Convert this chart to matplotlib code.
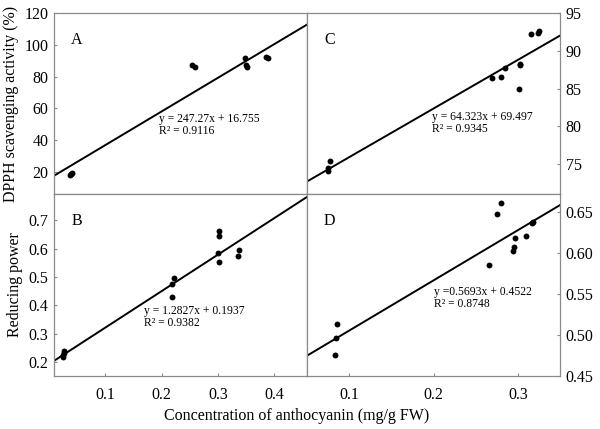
import matplotlib
matplotlib.use("Agg")
import matplotlib.pyplot as plt
import numpy as np

plt.rcParams['font.family'] = ['Liberation Serif', 'DejaVu Serif']

# ---- data ----
# A: DPPH vs anthocyanin (stress series 1)
a_x = [0.027, 0.029, 0.030, 0.213, 0.218, 0.294, 0.295, 0.296, 0.326, 0.328]
a_y = [18.2, 18.8, 19.3, 87.4, 86.3, 91.8, 87.1, 86.0, 92.0, 91.8]
a_fit = (247.27, 16.755)
a_eq = "y = 247.27x + 16.755\nR² = 0.9116"

# B: reducing power
b_x = [0.025, 0.025, 0.026, 0.026, 0.219, 0.219, 0.222, 0.300, 0.302, 0.302, 0.302, 0.3356, 0.337]
b_y = [0.218, 0.225, 0.233, 0.240, 0.430, 0.475, 0.497, 0.585, 0.645, 0.660, 0.554, 0.5735, 0.5946]
b_fit = (1.2827, 0.1937)
b_eq = "y = 1.2827x + 0.1937\nR² = 0.9382"

# C: DPPH (series 2)
c_x = [0.0746, 0.0752, 0.0778, 0.2698, 0.2798, 0.285, 0.301, 0.302, 0.3024, 0.316, 0.324, 0.3248]
c_y = [74.16, 74.5, 75.44, 86.35, 86.52, 87.76, 84.9, 88.1, 88.3, 92.17, 92.35, 92.66]
c_fit = (64.323, 69.497)
c_eq = "y = 64.323x + 69.497\nR² = 0.9345"

# D: reducing power (series 2)
d_x = [0.0829, 0.0849, 0.0857, 0.2659, 0.275, 0.2798, 0.2948, 0.2956, 0.2964, 0.3091, 0.3167, 0.318]
d_y = [0.4752, 0.4958, 0.5133, 0.5855, 0.6472, 0.661, 0.6025, 0.6074, 0.6176, 0.620, 0.6358, 0.6372]
d_line_x = [0.05, 0.35]
d_line_y = [0.4747, 0.658]
d_eq = "y =0.5693x + 0.4522\nR² = 0.8748"

left_xticks = [0.1, 0.2, 0.3, 0.4]
right_xticks = [0.1, 0.2, 0.3]
a_yticks = [20, 40, 60, 80, 100, 120]
b_yticks = [0.2, 0.3, 0.4, 0.5, 0.6, 0.7]
c_yticks = [75, 80, 85, 90, 95]
d_yticks = [0.45, 0.50, 0.55, 0.60, 0.65]

fig = plt.figure(figsize=(6, 4.29), dpi=100)
W, H = 600, 429
def box(x0, y0, x1, y1):
    return [x0 / W, 1 - y1 / H, (x1 - x0) / W, (y1 - y0) / H]

axA = fig.add_axes(box(54, 13, 307, 194))
axB = fig.add_axes(box(54, 194, 307, 376))
axC = fig.add_axes(box(307, 13, 560, 194))
axD = fig.add_axes(box(307, 194, 560, 376))

gray = '#8a8a8a'
tick_fs = 11.5
for ax in (axA, axB, axC, axD):
    for s in ax.spines.values():
        s.set_color(gray)
        s.set_linewidth(0.9)
    ax.tick_params(direction='in', length=2, color=gray, width=0.8,
                   labelsize=tick_fs, pad=4)

def draw(ax, x, y, lx, ly):
    ax.plot(lx, ly, color='black', lw=1.4, zorder=2, clip_on=True)
    ax.scatter(x, y, s=18, color='black', zorder=3, linewidths=0)

# A
axA.set_xlim(0.003, 0.388)
axA.set_ylim(6, 120)
lx = np.array(axA.get_xlim())
draw(axA, a_x, a_y, lx, a_fit[0] * lx + a_fit[1])
axA.set_xticks([])
axA.set_yticks(a_yticks)
axA.set_ylabel("DPPH scavenging activity (%)", fontsize=11.5, labelpad=4)

# B
axB.set_xlim(0.009, 0.458)
axB.set_ylim(0.152, 0.7915)
lx = np.array(axB.get_xlim())
draw(axB, b_x, b_y, lx, b_fit[0] * lx + b_fit[1])
axB.set_xticks(left_xticks)
axB.set_xticklabels([f"{t:.1f}" for t in left_xticks])
axB.set_yticks(b_yticks)
axB.set_yticklabels([f"{t:.1f}" for t in b_yticks])
axB.tick_params(axis='x', pad=8)
axB.set_ylabel("Reducing power", fontsize=11.5, labelpad=4)

# C
axC.set_xlim(0.05, 0.35)
axC.set_ylim(71.06, 95)
lx = np.array(axC.get_xlim())
draw(axC, c_x, c_y, lx, c_fit[0] * lx + c_fit[1])
axC.set_xticks([])
axC.yaxis.tick_right()
axC.set_yticks(c_yticks)

# D
axD.set_xlim(0.05, 0.35)
axD.set_ylim(0.45, 0.6715)
draw(axD, d_x, d_y, d_line_x, d_line_y)
axD.set_xticks(right_xticks)
axD.set_xticklabels([f"{t:.1f}" for t in right_xticks])
axD.tick_params(axis='x', pad=8)
axD.yaxis.tick_right()
axD.set_yticks(d_yticks)
axD.set_yticklabels([f"{t:.2f}" for t in d_yticks])

# panel letters
for ax, lab in ((axA, 'A'), (axB, 'B'), (axC, 'C'), (axD, 'D')):
    ax.text(0.09, 0.85, lab, transform=ax.transAxes, fontsize=11.5,
            ha='center', va='center')

eq_fs = 8.4
for ax, eq, xf, yf in ((axA, a_eq, 0.415, 0.445), (axB, b_eq, 0.356, 0.392),
                       (axC, c_eq, 0.493, 0.456), (axD, d_eq, 0.502, 0.497)):
    ax.text(xf, yf, eq, transform=ax.transAxes, fontsize=eq_fs,
            ha='left', va='top', linespacing=1.0)

fig.text(297 / W, 1 - 416 / H, "Concentration of anthocyanin (mg/g FW)",
         fontsize=11.5, ha='center', va='center')

fig.savefig("out.png", dpi=100)
